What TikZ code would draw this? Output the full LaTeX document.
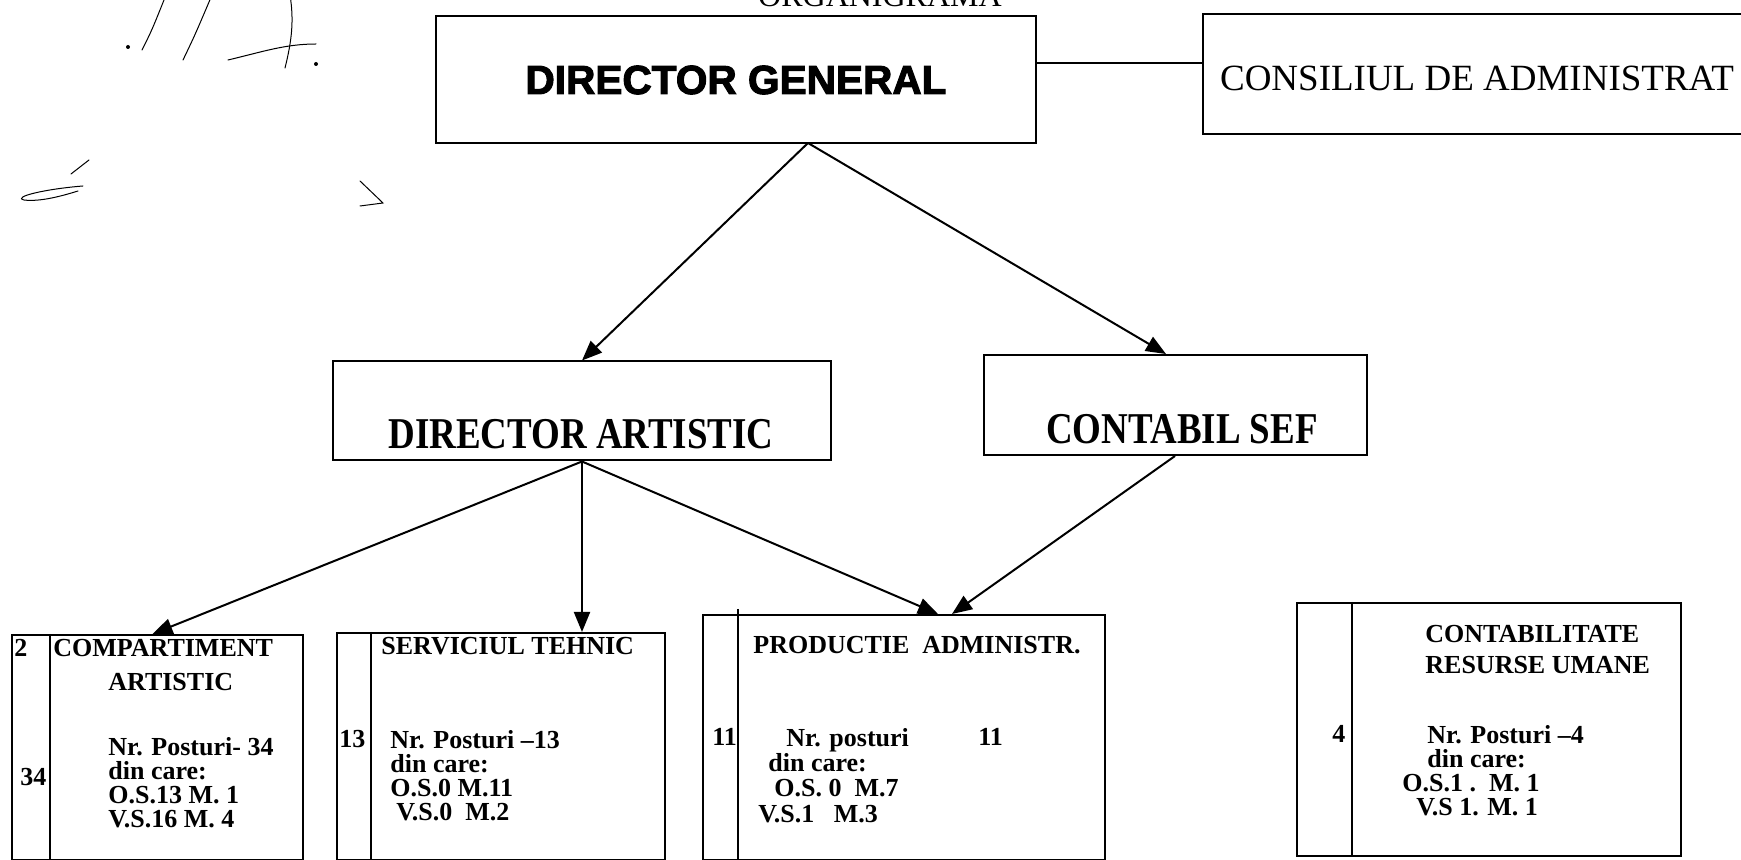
\documentclass[tikz,border=0pt]{standalone}
\usepackage{fontspec}
\setmainfont{Liberation Serif}
\newfontfamily\heavysans[FakeBold=2.5]{Liberation Sans}
\newfontfamily\narrowserif[FakeStretch=0.84]{Liberation Serif}
\usetikzlibrary{arrows.meta,calc}

\tikzset{
  box/.style={draw, line width=1pt, inner sep=0pt},
  link/.style={line width=1pt, -{Triangle[length=10pt,width=8pt]}},
  sig/.style={line width=0.5pt, line cap=round},
  bigtext/.style={font=\narrowserif\bfseries\fontsize{22}{22}\selectfont, inner sep=0pt},
  boxtext/.style={font=\bfseries\fontsize{13}{12}\selectfont, inner sep=0pt,
    anchor=north west, align=left},
}

\begin{document}
\begin{tikzpicture}[x=0.5pt,y=-0.5pt]
\useasboundingbox[fill=white] (0,0) rectangle (1741,860);

% signature in the corner
\fill (128,47) circle (1pt);
\draw[sig] (142,50) .. controls (152,30) .. (166,-5);
\draw[sig] (183,60) .. controls (195,35) .. (212,-5);
\draw[sig] (228,60) .. controls (262,52) and (285,44) .. (316,44);
\draw[sig] (285,68) .. controls (292,40) and (294,20) .. (290,-5);
\fill (316,64) circle (1pt);
\draw[sig] (71,174) -- (89,160);
\draw[sig] (83,186) .. controls (45,189) and (12,197) .. (24,200)
    .. controls (40,202) and (62,196) .. (78,191);
\draw[sig] (360,181) .. controls (372,192) .. (383,203) -- (360,206);

% top row
\node[font=\fontsize{16}{16}\selectfont, anchor=base] (title) at (880,7) {ORGANIGRAMA};
\node[box, minimum width=300pt, minimum height=63.5pt,
    font=\heavysans\bfseries\fontsize{20.3}{20}\selectfont] (dg) at (736,80) {DIRECTOR GENERAL};
\node[box, anchor=north west, minimum width=290pt, minimum height=60pt] (cons) at (1202,13) {};
\node[font=\fontsize{18.5}{18.5}\selectfont, anchor=west] (constext) at (1213,78)
    {CONSILIUL DE ADMINISTRAT};
\coordinate (dglink) at (1035,63);
\draw[line width=1pt] (dglink) -- (dglink -| cons.west);

% second row
\node[box, minimum width=249pt, minimum height=49.5pt] (da) at (582,411) {};
\node[bigtext] (datext) at (581,434) {DIRECTOR ARTISTIC};
\node[box, minimum width=191.5pt, minimum height=50pt] (cs) at (1175,405) {};
\node[bigtext] (cstext) at (1182,429) {CONTABIL SEF};

% bottom row
\node[box, anchor=north west, minimum width=145.5pt, minimum height=112.5pt] (ca) at (11,634) {};
\draw[line width=1pt] ($(ca.north west)+(39,0)$) -- ($(ca.south west)+(39,0)$);
\node[box, anchor=north west, minimum width=164pt, minimum height=113.5pt] (st) at (336,632) {};
\draw[line width=1pt] ($(st.north west)+(35,0)$) -- ($(st.south west)+(35,0)$);
\node[box, anchor=north west, minimum width=201pt, minimum height=122.5pt] (pa) at (702,614) {};
\draw[line width=1pt] ($(pa.north west)+(36,-5)$) -- ($(pa.south west)+(36,0)$);
\node[box, anchor=north west, minimum width=192pt, minimum height=126.5pt] (cr) at (1296,602) {};
\draw[line width=1pt] ($(cr.north west)+(56,0)$) -- ($(cr.south west)+(56,0)$);

% texts of the compartments
\node[boxtext] (canum) at (14,639) {2};
\node[boxtext] (catitle) at (53,639) {COMPARTIMENT\\[5pt]\hspace*{27.5pt}ARTISTIC};
\node[boxtext] (catotal) at (20,768) {34};
\node[boxtext] (cabody) at (108,737) {Nr. Posturi- 34\\din care:\\O.S.13 M. 1\\V.S.16 M. 4};

\node[boxtext] (sttitle) at (381,637) {SERVICIUL TEHNIC};
\node[boxtext] (sttotal) at (339,730) {13};
\node[boxtext] (stbody) at (390,730) {Nr. Posturi –13\\din care:\\O.S.0 M.11\\\hspace*{3pt}V.S.0~~M.2};

\node[boxtext] (patitle) at (753,636) {PRODUCTIE~~ADMINISTR.};
\node[boxtext] (patotal) at (712,728) {11};
\node[boxtext, font=\bfseries\fontsize{13}{12.6}\selectfont] (pabody) at (758,728)
    {\hspace*{14pt}Nr. posturi\\\hspace*{5pt}din care:\\\hspace*{8pt}O.S. 0~~M.7\\V.S.1~~~M.3};
\node[boxtext] (pacount) at (978,728) {11};

\node[boxtext] (crtitle) at (1425,625) {CONTABILITATE\\[3.5pt]RESURSE UMANE};
\node[boxtext] (crtotal) at (1332,725) {4};
\node[boxtext] (crbody) at (1402,725)
    {\hspace*{12.5pt}Nr. Posturi –4\\\hspace*{12.5pt}din care:\\O.S.1 .~~M. 1\\\hspace*{7pt}V.S 1. M. 1};

% arrows
\coordinate (dgout) at (808,143);
\draw[link] (dgout) -- (da.north);
\draw[link] (dgout) -- ($(cs.north)+(-9,0)$);
\draw[link] (da.south) -- ($(ca.north)+(-5,0)$);
\draw[link] (da.south) -- (da.south |- st.north);
\draw[link] (da.south) -- ($(pa.north)+(34,0)$);
\draw[link] (cs.south) -- ($(pa.north)+(48,0)$);
\end{tikzpicture}
\end{document}
